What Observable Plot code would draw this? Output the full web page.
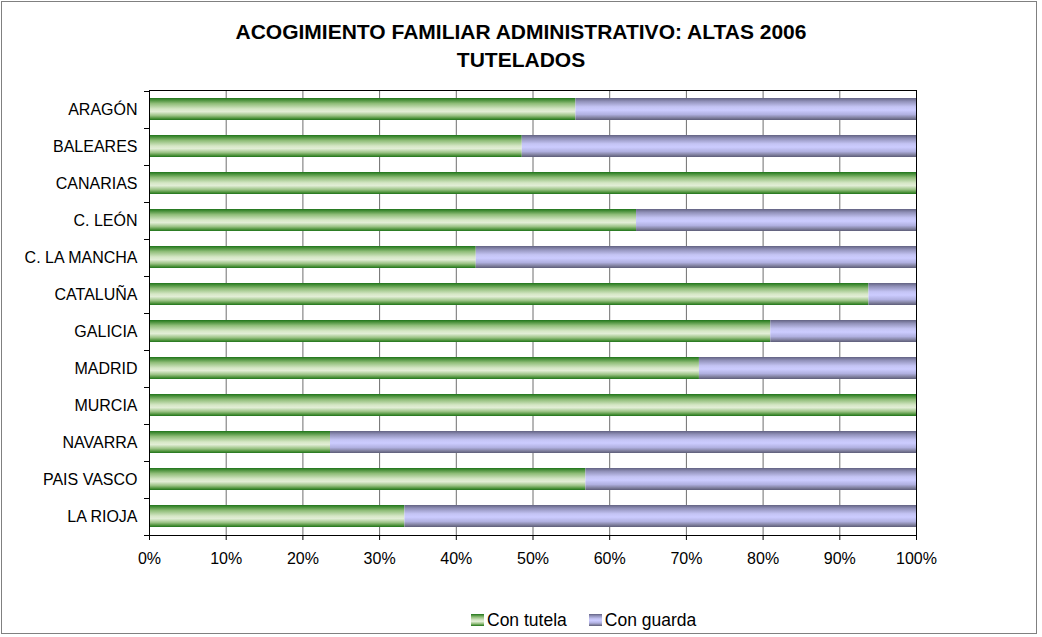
<!DOCTYPE html>
<html><head><meta charset="utf-8">
<script src="https://cdn.jsdelivr.net/npm/d3@7"></script>
<script src="https://cdn.jsdelivr.net/npm/@observablehq/plot@0.6"></script>
<style>
html,body{margin:0;padding:0;background:#fff;}
#wrap{position:relative;width:1042px;height:637px;overflow:hidden;font-family:"Liberation Sans",Arial,sans-serif;color:#000;}
#border{position:absolute;left:1px;top:1px;width:1034px;height:631px;border:1px solid #808080;}
#title{position:absolute;left:0;top:18px;width:1042px;text-align:center;font-weight:bold;font-size:21px;line-height:28px;}
#chart{position:absolute;left:0;top:80px;}
#legend{position:absolute;left:471px;top:610px;height:20px;display:flex;align-items:center;font-size:17.5px;white-space:nowrap;}
.item{display:flex;align-items:center;margin-right:22px}
.sw{width:13px;height:12px;margin-right:3px}
</style></head><body>
<div id="wrap"><div id="border"></div><div id="title"></div><div id="chart"></div><div id="legend"></div></div>
<script>
const regions = ["ARAGÓN","BALEARES","CANARIAS","C. LEÓN","C. LA MANCHA","CATALUÑA","GALICIA","MADRID","MURCIA","NAVARRA","PAIS VASCO","LA RIOJA"];
const conTutela = [55.6, 48.6, 100, 63.5, 42.6, 93.8, 81.0, 71.7, 100, 23.6, 56.9, 33.3];
const conGuarda = [44.4, 51.4, 0, 36.5, 57.4, 6.2, 19.0, 28.3, 0, 76.4, 43.1, 66.7];
const seriesNames = ["Con tutela", "Con guarda"];
const xTicks = [0, 10, 20, 30, 40, 50, 60, 70, 80, 90, 100];
const titleLines = ["ACOGIMIENTO FAMILIAR ADMINISTRATIVO: ALTAS 2006", "TUTELADOS"];

const gradients = [
  {id: "gTutela", stops: [[0,"#1f731c"],[0.07,"#3f8a32"],[0.25,"#8fbd78"],[0.5,"#d6e7c6"],[0.62,"#e2eed6"],[0.8,"#9ac284"],[0.93,"#4a9038"],[1,"#1f731c"]]},
  {id: "gGuarda", stops: [[0,"#626282"],[0.15,"#9090b8"],[0.4,"#c4c4f4"],[0.55,"#ccccff"],[0.75,"#b0b0e0"],[0.9,"#80809e"],[1,"#5c5c78"]]}
];

const rows = [];
seriesNames.forEach((s, si) => {
  const vals = si === 0 ? conTutela : conGuarda;
  regions.forEach((r, i) => rows.push({region: r, series: s, value: vals[i]}));
});

const chart = Plot.plot({
  width: 1042,
  height: 500,
  marginLeft: 149,
  marginRight: 126,
  marginTop: 10,
  marginBottom: 45,
  style: {fontFamily: '"Liberation Sans", Arial, sans-serif', fontSize: "16px", color: "#000", background: "transparent"},
  x: {domain: [0, 100], ticks: xTicks, tickFormat: d => d + "%", tickSize: 5, tickPadding: 12, label: null},
  y: {domain: regions, paddingInner: 0.4, paddingOuter: 0.2, tickSize: 0, tickPadding: 12, label: null},
  color: {domain: seriesNames, range: gradients.map(g => `url(#${g.id})`)},
  marks: [
    Plot.ruleX(xTicks.slice(1), {stroke: "#6e6e6e"}),
    Plot.barX(rows, Plot.stackX({x: "value", y: "region", fill: "series"})),
    Plot.frame({stroke: "#000"}),
    Plot.ruleX([0], {stroke: "#000"})
  ]
});

const svg = d3.select(chart);
const defs = svg.insert("defs", ":first-child");
gradients.forEach(g => {
  const lg = defs.append("linearGradient").attr("id", g.id).attr("x1", 0).attr("y1", 0).attr("x2", 0).attr("y2", 1);
  g.stops.forEach(([o, c]) => lg.append("stop").attr("offset", o).attr("stop-color", c));
});

// category boundary ticks on the y axis (Excel style)
const ys = chart.scale("y");
const xs = chart.scale("x");
const bw = ys.bandwidth;
const step = ys.step ?? (ys.range[1] - ys.range[0]) / (regions.length - ys.paddingInner + 2 * ys.paddingOuter);
const half = (step - bw) / 2;
const bounds = regions.map(r => ys.apply(r) - half);
bounds.push(ys.apply(regions[regions.length - 1]) + bw + half);
const x0 = xs.apply(0);
svg.append("g").selectAll("line").data(bounds).join("line")
  .attr("x1", x0 - 5).attr("x2", x0).attr("y1", d => Math.round(d) + 0.5).attr("y2", d => Math.round(d) + 0.5)
  .attr("stroke", "#000");

document.getElementById("chart").appendChild(chart);

document.getElementById("title").innerHTML = titleLines.join("<br>");

const legend = d3.select("#legend");
seriesNames.forEach((s, i) => {
  const g = gradients[i];
  const it = legend.append("div").attr("class", "item");
  it.append("div").attr("class", "sw")
    .style("background", `linear-gradient(to bottom, ${g.stops.map(([o, c]) => `${c} ${o * 100}%`).join(", ")})`);
  it.append("span").text(s);
});
</script>
</body></html>
